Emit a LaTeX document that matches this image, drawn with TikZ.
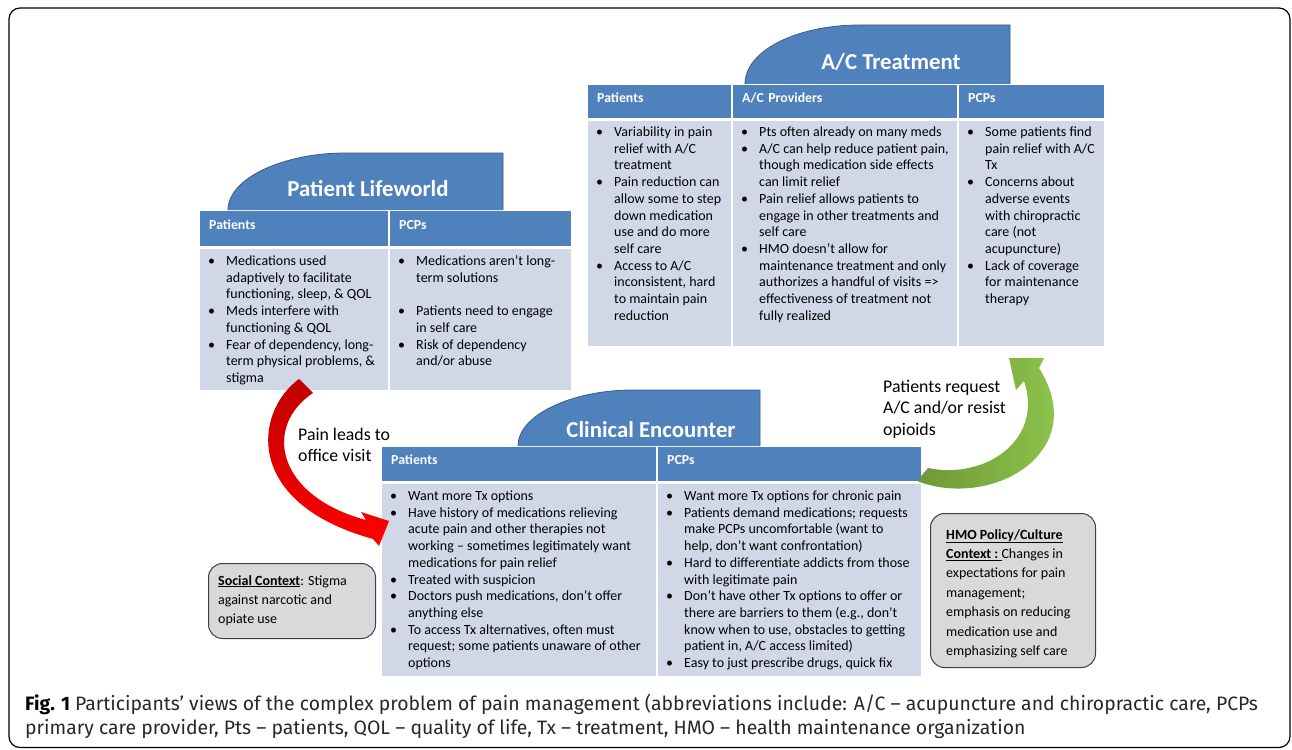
\documentclass[tikz,border=0pt]{standalone}
\usepackage{fontspec}
\setmainfont{Carlito}
\newfontfamily\capfont{Fira Sans}
\usetikzlibrary{positioning}
\definecolor{hdrblue}{RGB}{79,129,189}
\definecolor{cellblue}{RGB}{208,216,232}
\definecolor{tabline}{RGB}{56,93,138}
\definecolor{boxgray}{RGB}{217,217,217}
\definecolor{redhi}{RGB}{255,0,0}
\definecolor{reddk}{RGB}{192,0,0}
\definecolor{grnlt}{RGB}{146,208,80}
\definecolor{grndk}{RGB}{112,150,55}
\definecolor{capgray}{RGB}{40,40,40}

% bullet lists and plain line stacks, first baseline on top
\newcommand{\blist}[1]{\begin{tabular}[t]{@{}p{18pt}@{}l@{}}#1\end{tabular}}
\newcommand{\bul}{\textbullet&}
\newcommand{\txtlines}[1]{\begin{tabular}[t]{@{}l@{}}#1\end{tabular}}

\tikzset{
  hdr/.style   ={rectangle, fill=hdrblue, anchor=north west, inner xsep=9pt, inner ysep=0pt,
                 text width=#1, align=left, text=white, text height=10pt, text depth=9pt,
                 font=\fontsize{13.8}{16}\selectfont\bfseries},
  cell/.style  ={rectangle, fill=cellblue, anchor=north west, inner sep=0pt},
  tab/.style   ={fill=hdrblue, draw=tabline, line width=0.8pt},
  ttl/.style   ={text=white, inner sep=0pt, font=\fontsize{22.8}{26}\selectfont\bfseries},
  lst/.style   ={anchor=base west, inner sep=0pt, font=\fontsize{14}{16.7}\selectfont},
  ctx/.style   ={rectangle, rounded corners=14pt, fill=boxgray, draw=black!75, line width=1pt,
                 anchor=north west, inner sep=0pt},
  ctxtxt/.style={anchor=base west, inner sep=0pt, font=\fontsize{14}{19.4}\selectfont},
  note/.style  ={anchor=base west, inner sep=0pt, font=\fontsize{17.8}{21.5}\selectfont},
}

\begin{document}
\begin{tikzpicture}[x=1pt, y=-1pt]
\useasboundingbox (0,0) rectangle (1292,749);
\draw[line width=1.2pt, rounded corners=11pt] (9,8) rectangle (1290,747.5);

% A/C Treatment
\path[tab] (745,84) .. controls (745,51) and (796,25) .. (860,25) -- (1010,25) -- (1010,84);
\node[ttl] (acT) at (891,62) {A/C Treatment};
\node[hdr=125pt, minimum height=33] (acH1) at (588,85) {Patients};
\node[hdr=206pt, minimum height=33] (acH2) at (733,85) {A/C Providers};
\node[hdr=127pt, minimum height=33] (acH3) at (959,85) {PCPs};
\node[cell, minimum width=143, minimum height=225] (acB1) at (588,121) {};
\node[cell, minimum width=224, minimum height=225] (acB2) at (733,121) {};
\node[cell, minimum width=145, minimum height=225] (acB3) at (959,121) {};
\node[lst] (acL1) at ([shift={(8,15.5)}]acB1.north west) {\blist{
  \bul Variability in pain\\ & relief with A/C\\ & treatment\\
  \bul Pain reduction can\\ & allow some to step\\ & down medication\\ & use and do more\\ & self care\\
  \bul Access to A/C\\ & inconsistent, hard\\ & to maintain pain\\ & reduction}};
\node[lst] (acL2) at ([shift={(8,15.5)}]acB2.north west) {\blist{
  \bul Pts often already on many meds\\
  \bul A/C can help reduce patient pain,\\ & though medication side effects\\ & can limit relief\\
  \bul Pain relief allows patients to\\ & engage in other treatments and\\ & self care\\
  \bul HMO doesn’t allow for\\ & maintenance treatment and only\\ & authorizes a handful of visits =>\\
     & effectiveness of treatment not\\ & fully realized}};
\node[lst] (acL3) at ([shift={(8,15.5)}]acB3.north west) {\blist{
  \bul Some patients find\\ & pain relief with A/C\\ & Tx\\
  \bul Concerns about\\ & adverse events\\ & with chiropractic\\ & care (not\\ & acupuncture)\\
  \bul Lack of coverage\\ & for maintenance\\ & therapy}};

% Patient Lifeworld
\path[tab] (228,210) .. controls (228,178) and (284,153) .. (345,153) -- (503,153) -- (503,210);
\node[ttl] (lwT) at (368,189) {Patient Lifeworld};
\node[hdr=170pt, minimum height=35] (lwH1) at (200,211) {Patients};
\node[hdr=163pt, minimum height=35] (lwH2) at (390,211) {PCPs};
\node[cell, minimum width=188, minimum height=141] (lwB1) at (200,249) {};
\node[cell, minimum width=181, minimum height=141] (lwB2) at (390,249) {};
\node[lst] (lwL1) at ([shift={(8,16.5)}]lwB1.north west) {\blist{
  \bul Medications used\\ & adaptively to facilitate\\ & functioning, sleep, \& QOL\\
  \bul Meds interfere with\\ & functioning \& QOL\\
  \bul Fear of dependency, long-\\ & term physical problems, \&\\ & stigma}};
\node[lst] (lwL2) at ([shift={(8,16.5)}]lwB2.north west) {\blist{
  \bul Medications aren’t long-\\ & term solutions\\ & \\
  \bul Patients need to engage\\ & in self care\\
  \bul Risk of dependency\\ & and/or abuse}};

% Clinical Encounter
\path[tab] (518,446) .. controls (518,415) and (572,390) .. (633,390) -- (760,390) -- (760,446);
\node[ttl] (ceT) at (651,430) {Clinical Encounter};
\node[hdr=256pt, minimum height=34] (ceH1) at (382,447) {Patients};
\node[hdr=245pt, minimum height=34] (ceH2) at (658,447) {PCPs};
\node[cell, minimum width=274, minimum height=192] (ceB1) at (382,484) {};
\node[cell, minimum width=263, minimum height=192] (ceB2) at (658,484) {};
\node[lst] (ceL1) at ([shift={(8,16.5)}]ceB1.north west) {\blist{
  \bul Want more Tx options\\
  \bul Have history of medications relieving\\ & acute pain and other therapies not\\
     & working – sometimes legitimately want\\ & medications for pain relief\\
  \bul Treated with suspicion\\
  \bul Doctors push medications, don’t offer\\ & anything else\\
  \bul To access Tx alternatives, often must\\ & request; some patients unaware of other\\ & options}};
\node[lst] (ceL2) at ([shift={(8,16.5)}]ceB2.north west) {\blist{
  \bul Want more Tx options for chronic pain\\
  \bul Patients demand medications; requests\\ & make PCPs uncomfortable (want to\\
     & help, don’t want confrontation)\\
  \bul Hard to differentiate addicts from those\\ & with legitimate pain\\
  \bul Don’t have other Tx options to offer or\\ & there are barriers to them (e.g., don’t\\
     & know when to use, obstacles to getting\\ & patient in, A/C access limited)\\
  \bul Easy to just prescribe drugs, quick fix}};

% curved block arrows between the stages
\path[top color=reddk, bottom color=redhi]
  (299,379) .. controls (254,412) and (243,503) .. (373,539)
  -- (379,546) -- (389,521) -- (361,512) -- (366,520)
  .. controls (276,496) and (263,426) .. (313,393) -- cycle;
\path[left color=grndk, right color=grnlt]
  (917,481) .. controls (992,510) and (1092,452) .. (1039,368)
  -- (1044,358) -- (1009,358) -- (1016,390) -- (1024,381)
  .. controls (1044,440) and (985,480) .. (928,468) -- cycle;
\node[note] (visit) at (298,440) {\txtlines{Pain leads to\\office visit}};
\node[note] (resist) at (883,392) {\txtlines{Patients request\\A/C and/or resist\\opioids}};

% context boxes
\node[ctx, minimum width=167, minimum height=75] (soc) at (208,563) {};
\node[ctxtxt] (socT) at ([shift={(10,22)}]soc.north west)
  {\txtlines{\underline{\textbf{Social Context}}: Stigma\\against narcotic and\\opiate use}};
\node[ctx, minimum width=165, minimum height=154] (hmo) at (930,513) {};
\node[ctxtxt] (hmoT) at ([shift={(16,26)}]hmo.north west)
  {\txtlines{\underline{\textbf{HMO Policy/Culture}}\\\underline{\textbf{Context :}\ }Changes in\\
   expectations for pain\\management;\\emphasis on reducing\\medication use and\\emphasizing self care}};

% caption
\node[anchor=base west, inner sep=0pt, text=capgray, font=\capfont\fontsize{19.4}{24}\selectfont] (cap) at (25,710)
  {\txtlines{{\color{black}\bfseries Fig. 1} Participants’ views of the complex problem of pain management (abbreviations include: A/C – acupuncture and chiropractic care, PCPs\\
   primary care provider, Pts – patients, QOL – quality of life, Tx – treatment, HMO – health maintenance organization}};
\end{tikzpicture}
\end{document}
